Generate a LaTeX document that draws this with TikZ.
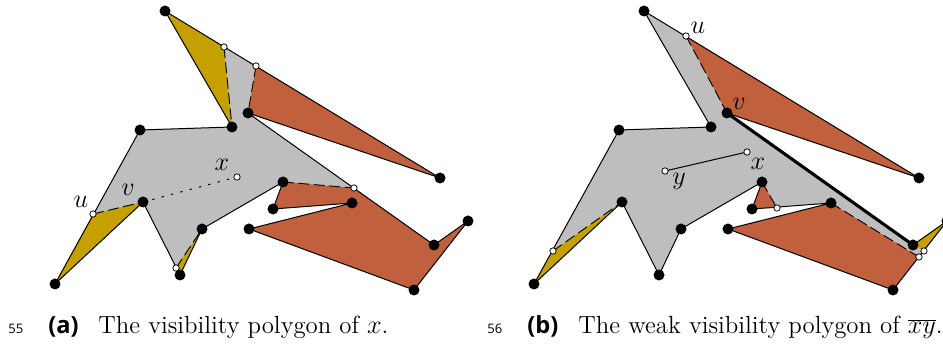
\documentclass[tikz,border=0pt]{standalone}
\usepackage{fontspec}
\newfontfamily\capsans{Open Sans}
\definecolor{goldfill}{HTML}{C4A000}
\definecolor{redfill}{HTML}{C1603C}
\definecolor{grayfill}{HTML}{BEBEBE}
\tikzset{
  polyedge/.style={line width=0.55pt,line join=round},
  sightline/.style={line width=0.5pt,dash pattern=on 6pt off 2.5pt},
  ptlabel/.style={inner sep=0pt,font=\Large},
  captext/.style={anchor=base west,inner sep=0pt,font=\fontsize{13.65}{16}\selectfont},
  capmark/.style={anchor=base west,inner sep=0pt,font=\capsans\bfseries\fontsize{13}{15}\selectfont},
  linenum/.style={anchor=base west,inner sep=0pt,font=\capsans\fontsize{7.2}{9}\selectfont}
}
\newcommand{\polyoutline}{(165,11) -- (440,178) -- (248,113) -- (434,245) -- (468,221) -- (414,290) -- (249,229) -- (352,203) -- (273,209) -- (283,182) -- (202,229) -- (180,275) -- (143,202) -- (55,284) -- (140,130) -- (232,127) -- cycle}
\newcommand{\polydots}{
  \foreach \p in {(165,11),(440,178),(248,113),(434,245),(468,221),(414,290),(249,229),(352,203),(273,209),(283,182),(202,229),(180,275),(143,202),(55,284),(140,130),(232,127)}
    \fill \p circle[radius=5.5];
}
\newcommand{\whitedot}[1]{\draw[line width=0.4pt,fill=white] #1 circle[radius=3.2];}
\begin{document}
\begin{tikzpicture}[x=0.55pt,y=-0.55pt]
\clip (0,0) rectangle (943,345);
% left polygon
\fill[grayfill] \polyoutline;
\fill[goldfill] (165,11) -- (224,47) -- (232,127) -- cycle;
\fill[goldfill] (93,214) -- (143,202) -- (55,284) -- cycle;
\fill[goldfill] (176,268) -- (202,229) -- (180,275) -- cycle;
\fill[redfill] (256,66) -- (440,178) -- (248,113) -- cycle;
\fill[redfill] (354,188) -- (434,245) -- (468,221) -- (414,290) -- (249,229) -- (352,203) -- (273,209) -- (283,182) -- cycle;
\draw[polyedge] \polyoutline;
\draw[sightline] (224,47) -- (232,127);
\draw[sightline] (256,66) -- (248,113);
\draw[sightline] (283,182) -- (354,188);
\draw[sightline] (93,214) -- (143,202);
\draw[sightline] (176,268) -- (202,229);
\draw[line width=0.55pt,dash pattern=on 1.3pt off 4pt] (143,202) -- (237,177);
\polydots
\whitedot{(224,47)}
\whitedot{(256,66)}
\whitedot{(354,188)}
\whitedot{(93,214)}
\whitedot{(176,268)}
\whitedot{(237,177)}
\node[ptlabel] (xa) at (222,165) {\(x\)};
\node[ptlabel] (va) at (128,190) {\(v\)};
\node[ptlabel] (ua) at (81,202) {\(u\)};
% right polygon
\begin{scope}[shift={(479,0)}]
\fill[grayfill] \polyoutline;
\fill[goldfill] (55,284) -- (74,251) -- (143,202) -- cycle;
\fill[goldfill] (435,245) -- (468,221) -- (445,251) -- cycle;
\fill[redfill] (207,36) -- (440,178) -- (248,113) -- cycle;
\fill[redfill] (283,182) -- (273,209) -- (298,208) -- cycle;
\fill[redfill] (249,229) -- (352,203) -- (440,257) -- (414,290) -- cycle;
\fill[white] (273,209) -- (298,208) -- (352,203) -- cycle;
\draw[polyedge] \polyoutline;
\draw[line width=1.7pt] (248,113) -- (434,245);
\draw[sightline] (207,36) -- (248,113);
\draw[sightline] (74,251) -- (143,202);
\draw[sightline] (352,203) -- (440,257);
\draw[sightline] (283,182) -- (298,208);
\draw[line width=0.55pt] (186,171) -- (268,152);
\polydots
\whitedot{(207,36)}
\whitedot{(74,251)}
\whitedot{(298,208)}
\whitedot{(445,251)}
\whitedot{(440,257)}
\whitedot{(186,171)}
\whitedot{(268,152)}
\node[ptlabel] (ub) at (219,28) {\(u\)};
\node[ptlabel] (vb) at (260,104) {\(v\)};
\node[ptlabel] (xb) at (279,164) {\(x\)};
\node[ptlabel] (yb) at (200,181) {\(y\)};
\end{scope}
% captions
\node[linenum] (numa) at (8,334) {55};
\node[capmark] (capa) at (48,334) {(a)};
\node[captext] (capatext) at (98,334) {The visibility polygon of \(x\).};
\node[linenum] (numb) at (487,334) {56};
\node[capmark] (capb) at (527,334) {(b)};
\node[captext] (capbtext) at (578,334) {The weak visibility polygon of \(\overline{xy}\).};
\end{tikzpicture}
\end{document}
